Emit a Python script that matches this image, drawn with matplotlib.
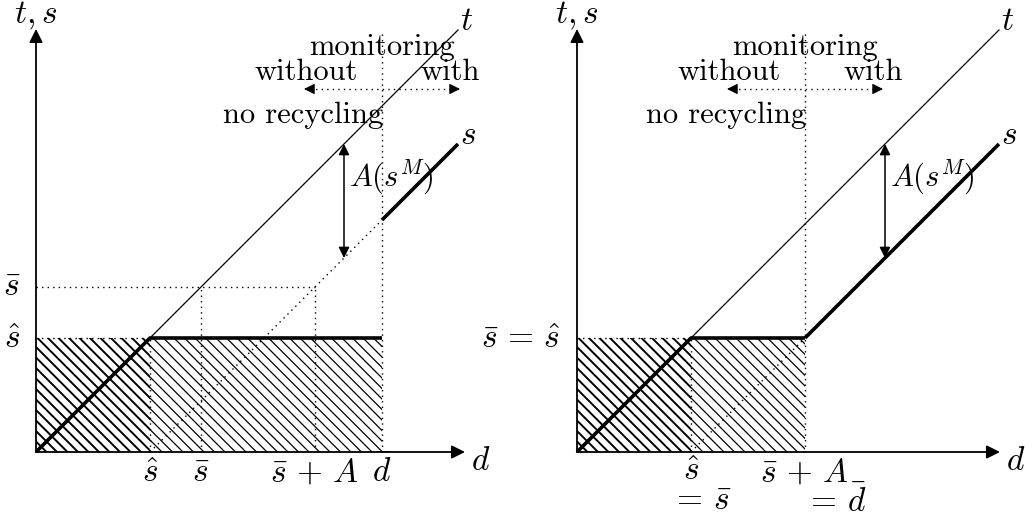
import numpy as np
import matplotlib.pyplot as plt
from matplotlib.patches import Rectangle
from matplotlib.collections import LineCollection

plt.rcParams['mathtext.fontset'] = 'cm'

# thresholds for the two cases (left: s_bar > s_hat, right: s_bar = s_hat)
s_hat = [1.14, 1.14]
s_bar = [1.65, 1.14]
A = [1.14, 1.14]
d_bar = [3.46, 2.28]
d_end = 4.22          # where the t and s lines stop
arrow_d = 3.08        # position of the A(s^M) arrow

FS = 22
FM = 24
DOT = dict(color='k', lw=1.0, ls=(0, (1, 3)))


def hatch(ax, x0, x1, y0, y1, lw, gap=0.105):
    rect = Rectangle((x0, y0), x1 - x0, y1 - y0, fill=False, lw=0)
    ax.add_patch(rect)
    cs = np.arange(np.floor((x0 + y0) / gap) * gap, x1 + y1 + gap, gap)
    segs = [[(c - y1 - 0.5, y1 + 0.5), (c - y0 + 0.5, y0 - 0.5)] for c in cs]
    lc = LineCollection(segs, colors='k', linewidths=lw)
    ax.add_collection(lc, autolim=False)
    lc.set_clip_path(rect)


def arrow(ax, start, end, style='-|>', ms=20, lw=1.3):
    ax.annotate('', xy=end, xytext=start,
                arrowprops=dict(arrowstyle=style, color='k', lw=lw,
                                mutation_scale=ms, shrinkA=0, shrinkB=0))


def panel(ax, i, x_tip):
    sh, sb, a, db = s_hat[i], s_bar[i], A[i], d_bar[i]

    # shaded areas
    hatch(ax, 0, sh, 0, sh, lw=1.4)
    hatch(ax, sh, db, 0, sh, lw=0.9)

    # dotted guides
    ax.plot([0, sh], [sh, sh], **DOT)
    ax.plot([sh, sh], [0, sh], **DOT)
    ax.plot([db, db], [0, 4.19], **DOT)
    ax.plot([a, db], [0, db - a], **DOT)
    if sb > sh:
        ax.plot([0, sb + a], [sb, sb], **DOT)
        ax.plot([sb, sb], [0, sb], **DOT)
        ax.plot([sb + a, sb + a], [0, sb], **DOT)

    # t line and the s schedule
    ax.plot([0, d_end], [0, d_end], color='k', lw=0.9)
    ax.plot([0, sh, db], [0, sh, sh], color='k', lw=2.6, solid_capstyle='butt')
    ax.plot([db, d_end], [db - a, d_end - a], color='k', lw=2.6,
            solid_capstyle='butt')

    # axes
    arrow(ax, (0, 0), (0, 4.23))
    arrow(ax, (0, 0), (x_tip, 0))
    ax.text(0, 4.37, r'$t,s$', fontsize=FM, ha='center', va='center')
    ax.text(x_tip + 0.16, -0.08, r'$d$', fontsize=FM, ha='center', va='center')
    ax.text(d_end + 0.09, d_end + 0.1, r'$t$', fontsize=FM, ha='center', va='center')
    ax.text(d_end + 0.1, d_end - a + 0.1, r'$s$', fontsize=FM, ha='center', va='center')

    # A(s^M) gap
    arrow(ax, (arrow_d, arrow_d), (arrow_d, arrow_d - a), style='<|-|>', ms=16, lw=1.1)
    ax.text(arrow_d + 0.05, arrow_d - 0.33, r'$A(s^M)$', fontsize=FS,
            ha='left', va='center')

    # regime labels
    y_arr = 3.63
    ax.plot([db - 0.72, db + 0.72], [y_arr, y_arr], **DOT)
    arrow(ax, (db - 0.70, y_arr), (db - 0.78, y_arr), ms=16, lw=0.8)
    arrow(ax, (db + 0.70, y_arr), (db + 0.78, y_arr), ms=16, lw=0.8)
    ax.text(db, 4.05, 'monitoring', family='cmr10', fontsize=FS,
            ha='center', va='center')
    ax.text(db - 0.76, 3.80, 'without', family='cmr10', fontsize=FS,
            ha='center', va='center')
    ax.text(db + 0.68, 3.80, 'with', family='cmr10', fontsize=FS,
            ha='center', va='center')
    ax.text(db + 0.01, 3.37, 'no recycling', family='cmr10', fontsize=FS,
            ha='right', va='center')


fig = plt.figure(figsize=(10.36, 5.19), dpi=100)

ax1 = fig.add_axes([0, 0, 526 / 1036, 1])
ax1.set_xlim(-0.36, 4.90)
ax1.set_ylim(-0.67, 4.52)
panel(ax1, 0, 4.29)
for x, lab in [(s_hat[0], r'$\hat{s}$'), (s_bar[0], r'$\bar{s}$'),
               (s_bar[0] + A[0], r'$\bar{s}\,+\,A$'), (d_bar[0], r'$\bar{d}$')]:
    ax1.text(x, -0.04, lab, fontsize=FM, ha='center', va='top')
ax1.text(-0.24, s_bar[0], r'$\bar{s}$', fontsize=FM, ha='center', va='center')
ax1.text(-0.24, s_hat[0], r'$\hat{s}$', fontsize=FM, ha='center', va='center')

ax2 = fig.add_axes([518 / 1036, 0, 518 / 1036, 1])
ax2.set_xlim(-0.59, 4.59)
ax2.set_ylim(-0.67, 4.52)
panel(ax2, 1, 4.23)
ax2.text(s_hat[1], -0.02, r'$\hat{s}$', fontsize=FM, ha='center', va='top')
ax2.text(s_hat[1] + 0.10, -0.49, r'$=\,\bar{s}$', fontsize=FM, ha='center', va='center')
ax2.text(d_bar[1], -0.04, r'$\bar{s}\,+\,A$', fontsize=FM, ha='center', va='top')
ax2.text(d_bar[1] + 0.31, -0.50, r'$=\,\bar{d}$', fontsize=FM, ha='center', va='center')
ax2.text(-0.17, s_hat[1], r'$\bar{s}\,=\,\hat{s}$', fontsize=FM, ha='right', va='center')

for ax in (ax1, ax2):
    ax.axis('off')

fig.savefig('out.png', dpi=100)
